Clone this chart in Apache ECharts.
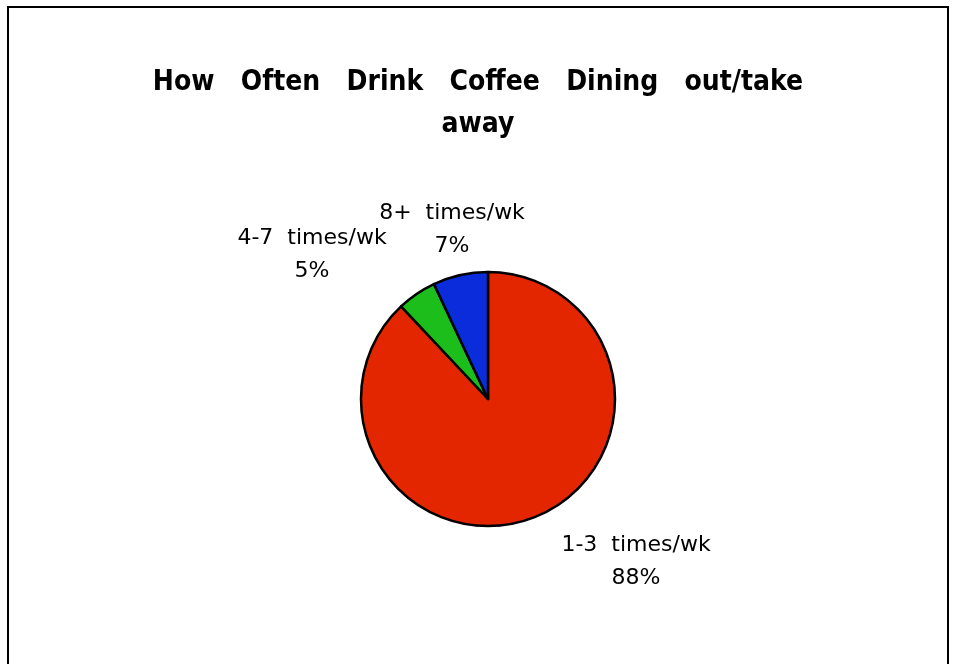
<!DOCTYPE html>
<html><head><meta charset="utf-8">
<script src="https://cdn.jsdelivr.net/npm/echarts@6/dist/echarts.min.js"></script>
<style>html,body{margin:0;padding:0;background:#fff}#c{width:956px;height:664px}</style>
</head><body><div id="c"></div>
<script>
const titleText = 'How   Often   Drink   Coffee   Dining   out/take\naway';
const categories = ['1-3  times/wk', '4-7  times/wk', '8+  times/wk'];
const values = [88, 5, 7];
const colors = ['#E32600', '#1CBE1C', '#0A2CDB'];
const labelPos = [[636, 562], [312, 255], [452, 230]];

const chart = echarts.init(document.getElementById('c'));
chart.setOption({
  animation: false,
  title: {
    text: titleText, left: 'center', top: 57,
    textStyle: {fontFamily: 'DejaVu Sans Condensed, DejaVu Sans', fontSize: 28, fontWeight: 'bold', color: '#000', lineHeight: 42}
  },
  graphic: [{type: 'rect', shape: {x: 8, y: 7, width: 940, height: 700}, style: {fill: 'none', stroke: '#000', lineWidth: 2}}],
  series: [{
    type: 'pie', center: [488, 399], radius: 127, startAngle: 90, clockwise: true,
    data: categories.map((c, i) => ({name: c, value: values[i], itemStyle: {color: colors[i]}})),
    itemStyle: {borderColor: '#000', borderWidth: 2.5},
    label: {
      show: true, formatter: p => p.name + '\n' + p.value + '%',
      fontFamily: 'DejaVu Sans', fontSize: 22, color: '#000', lineHeight: 33, align: 'center'
    },
    labelLine: {show: false},
    labelLayout: p => ({x: labelPos[p.dataIndex][0], y: labelPos[p.dataIndex][1], align: 'center', verticalAlign: 'middle'})
  }]
});
</script></body></html>
